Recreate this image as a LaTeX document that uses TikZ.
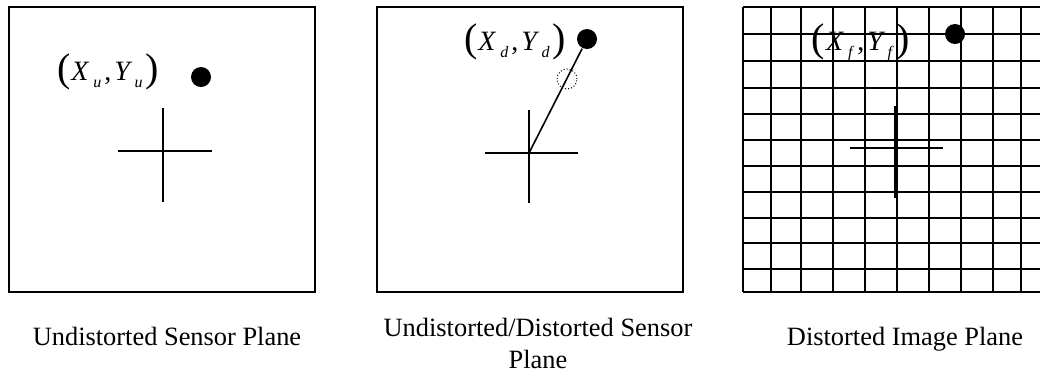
\documentclass[tikz,border=0pt]{standalone}
\usepackage{fontspec}
\setmainfont{Liberation Serif}
\usetikzlibrary{positioning}
\newcommand{\sbig}[1]{\raisebox{-1pt}{\fontsize{40}{40}\selectfont#1}}
\newcommand{\ssub}[1]{\raisebox{-7pt}{\fontsize{16}{16}\selectfont\textit{#1}}}
\newcommand{\ptlab}[1]{\sbig{(}\kern1pt\textit{X}\kern4pt\ssub{#1}\kern3pt,\kern3pt\textit{Y}\kern2pt\ssub{#1}\kern3pt\sbig{)}}

\begin{document}
\begin{tikzpicture}[x=1pt,y=-1pt,line width=1.6pt,
  plane/.style={draw,line width=2pt},
  spot/.style={circle,fill,inner sep=0pt,minimum size=20pt},
  ghost/.style={circle,draw,dotted,line width=1pt,inner sep=0pt,minimum size=20pt},
  lab/.style={anchor=base,inner sep=0pt,font=\fontsize{28}{28}\selectfont},
  planecap/.style={anchor=base,inner sep=0pt,align=center,font=\fontsize{26.4}{32}\selectfont}]
\useasboundingbox (0,0) rectangle (1040,376);

\draw[plane] (9,7) rectangle (315,292);
\node[lab] (pu) at (108,80) {\ptlab{u}};
\node[spot] (du) at (201,77) {};
\draw (118,151) -- (212,151) (163,108) -- (163,202);

\draw[plane] (377,7) rectangle (683,292);
\node[lab] (pd) at (515,50) {\ptlab{d}};
\node[spot] (dd) at (587,39) {};
\coordinate (cd) at (529,153);
\draw (485,153) -- (578,153) (529,110) -- (529,203);
\draw (cd) -- (dd);
\node[ghost] (gd) at (567,79) {};

\foreach \x in {743,771,801,833,865,897,929,961,993,1021}
  \draw[line width=2pt] (\x,7) -- (\x,292);
\foreach \y in {7,34,61,88,114,140,166,192,218,243,269,292}
  \draw[line width=2pt] (743,\y) -- (1040,\y);
\node[lab] (pf) at (861,50) {\ptlab{f}};
\node[spot] (df) at (955,34) {};
\draw (850,148) -- (943,148);
\draw[line width=3pt] (895,106) -- (895,198);

\node[planecap] (nu) at (167,345) {Undistorted Sensor Plane};
\node[planecap] (nd) at (538,368) {Undistorted/Distorted Sensor\\Plane};
\node[planecap] (nf) at (905,345) {Distorted Image Plane};
\end{tikzpicture}
\end{document}
